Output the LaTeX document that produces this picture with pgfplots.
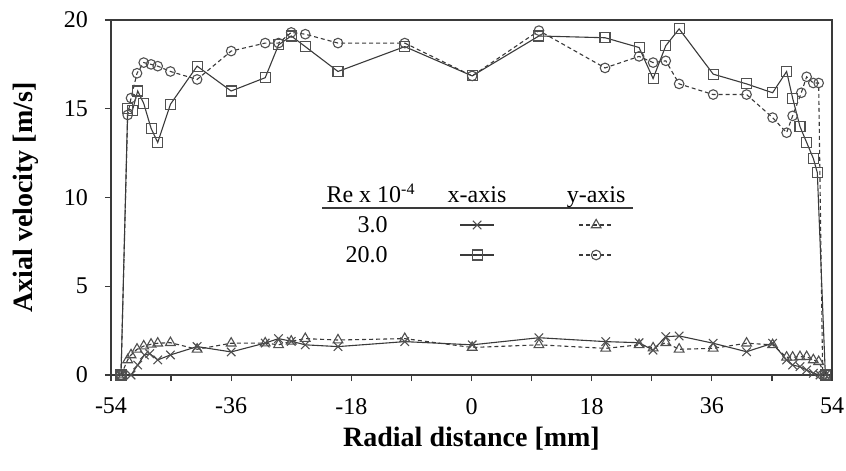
\documentclass[border=0pt]{standalone}
\usepackage{fontspec}
\setmainfont{Liberation Serif}
\usepackage{pgfplots}
\pgfplotsset{compat=1.18}
\definecolor{ln}{HTML}{3A3A3A}
\definecolor{mk}{HTML}{505050}
\pgfplotsset{
  lgimg/.style={legend image code/.code={%
    \path (0pt,0pt) (40pt,0pt);
    \draw[mark repeat=2,mark phase=2] plot coordinates {(11.5pt,0pt) (20pt,0pt) (28.5pt,0pt)};}},
  sx/.style={ln, line width=0.55pt, solid},
  sy/.style={ln, line width=0.55pt, dash pattern=on 2pt off 1.5pt},
}
\begin{document}
\begin{tikzpicture}
\begin{axis}[
  scale only axis, width=360.5pt, height=177.5pt,
  xmin=-54, xmax=54, ymin=0, ymax=20,
  xtick={-54,-36,...,54}, minor xtick={-45,-27,-9,9,27,45},
  ytick={0,5,...,20},
  tick pos=left, tick align=outside,
  major tick length=3pt, minor tick length=3pt,
  every tick/.style={ln, line width=0.6pt},
  axis line style={ln, line width=0.7pt},
  /pgf/number format/assume math mode=true,
  ticklabel style={font=\fontsize{12}{14}\selectfont},
  xticklabel style={yshift=-5pt},
  yticklabel style={xshift=-5pt},
  xlabel={Radial distance [mm]},
  ylabel={Axial velocity [m/s]},
  every axis x label/.style={at={(axis description cs:0.5,-0.2028)}, anchor=base, font=\fontsize{14}{17}\selectfont\bfseries},
  every axis y label/.style={at={(axis description cs:-0.1082,0.5)}, anchor=base, rotate=90, font=\fontsize{14}{17}\selectfont\bfseries},
  clip=false,
  legend columns=3,
  legend cell align=left,
  legend style={draw=none, fill=none, inner sep=0pt, outer sep=0pt, row sep=1pt, column sep=0pt,
    at={(axis description cs:0.2989,0.5465)}, anchor=north west,
    font=\fontsize{12}{14}\selectfont,
    nodes={inner sep=0pt, text height=11pt, text depth=3pt, font=\fontsize{12}{14}\selectfont}},
]
% Re 3.0, x-axis
\addplot[sx, mark=x, mark size=3pt, mark options={mk, solid}, forget plot] coordinates {
(-52.5,0) (-51.0,0.0) (-50.0,0.56) (-49.0,1.13) (-48.2,1.2) (-47.0,0.85) (-45.1,1.13) (-41.1,1.6)
(-36.0,1.3) (-30.9,1.8) (-28.9,2.05) (-27.0,1.9) (-24.9,1.7) (-20.0,1.6) (-10.0,1.88) (0.1,1.7)
(10.1,2.1) (20.1,1.88) (25.1,1.82) (27.2,1.4) (29.1,2.16) (31.1,2.2) (36.2,1.79) (41.2,1.31)
(45.1,1.79) (47.2,0.85) (48.1,0.56) (49.2,0.47) (50.2,0.28) (51.2,0.1) (52.2,0) (53.0,0)};
% Re 3.0, y-axis
\addplot[sy, mark=triangle, mark size=2.8pt, mark options={mk, solid, fill=white}, forget plot] coordinates {
(-52.5,0) (-51.5,0.85) (-51.0,1.13) (-50.1,1.45) (-49.1,1.63) (-48.0,1.73) (-47.0,1.79) (-45.1,1.82)
(-41.1,1.45) (-36.0,1.79) (-30.9,1.8) (-28.9,1.7) (-27.0,1.9) (-24.9,2.05) (-20.0,1.97) (-10.0,2.05)
(0.1,1.55) (10.1,1.7) (20.1,1.5) (25.1,1.7) (27.2,1.52) (29.1,1.82) (31.1,1.45) (36.2,1.5)
(41.2,1.79) (45.1,1.7) (47.2,1.0) (48.1,1.0) (49.2,1.03) (50.2,1.03) (51.2,0.85) (52.0,0.75) (53.0,0)};
% Re 20.0, y-axis
\addplot[sy, mark=o, mark size=2.4pt, mark options={mk, solid, fill=white}, forget plot] coordinates {
(-52.5,0) (-51.5,14.65) (-51.0,15.6) (-50.1,17.0) (-49.1,17.6) (-48.0,17.5) (-47.0,17.4) (-45.1,17.1)
(-41.1,16.65) (-36.0,18.25) (-30.9,18.7) (-28.9,18.7) (-27.0,19.3) (-24.9,19.2) (-20.0,18.7) (-10.0,18.7)
(0.1,16.85) (10.1,19.4) (20.0,17.3) (25.1,17.95) (27.2,17.6) (29.1,17.7) (31.1,16.4) (36.2,15.8)
(41.2,15.8) (45.1,14.5) (47.2,13.65) (48.1,14.6) (49.4,15.9) (50.2,16.8) (51.2,16.45) (52.0,16.45) (52.6,0)};
% Re 20.0, x-axis
\addplot[sx, mark=square, mark size=2.5pt, mark options={mk, solid, fill=white}, forget plot] coordinates {
(-52.5,0) (-51.5,15.0) (-50.8,14.9) (-50.0,16.0) (-49.1,15.3) (-48.0,13.9) (-47.0,13.1) (-45.1,15.25)
(-41.1,17.4) (-36.0,16.0) (-30.9,16.75) (-28.9,18.6) (-27.0,19.1) (-24.9,18.5) (-20.0,17.1) (-10.0,18.5)
(0.1,16.85) (10.1,19.1) (20.0,19.0) (25.1,18.45) (27.2,16.7) (29.1,18.55) (31.1,19.5) (36.2,16.95)
(41.2,16.4) (45.1,15.9) (47.2,17.1) (48.1,15.6) (49.2,14.0) (50.2,13.1) (51.2,12.2) (51.8,11.4) (53.0,0)};
% ---- legend table ----
\addlegendimage{legend image code/.code={}}
\addlegendentry{\makebox[55pt][l]{Re x 10\textsuperscript{-4}}}
\addlegendimage{legend image code/.code={%
  \path (0pt,0pt) (40pt,0pt);
  \node[anchor=center, inner sep=0pt, text height=11pt, text depth=3pt] at (20pt,0pt) {x-axis};
  \draw[overlay, ln, line width=0.6pt] (-57.5pt,-6.5pt) -- (98pt,-6.5pt);}}
\addlegendentry{\rule{19pt}{0pt}}
\addlegendimage{legend image code/.code={%
  \path (0pt,0pt) (40pt,0pt);
  \node[anchor=center, inner sep=0pt, text height=11pt, text depth=3pt] at (20pt,0pt) {y-axis};}}
\addlegendentry{\mbox{}}
\addlegendimage{legend image code/.code={}}
\addlegendentry{\makebox[55pt][l]{\hspace{9.5pt}\phantom{2}3.0}}
\addlegendimage{sx, mark=x, mark size=3pt, mark options={mk, solid}, lgimg}
\addlegendentry{\rule{19pt}{0pt}}
\addlegendimage{sy, mark=triangle, mark size=2.8pt, mark options={mk, solid, fill=white}, lgimg}
\addlegendentry{\mbox{}}
\addlegendimage{legend image code/.code={}}
\addlegendentry{\makebox[55pt][l]{\hspace{9.5pt}20.0}}
\addlegendimage{sx, mark=square, mark size=2.5pt, mark options={mk, solid, fill=white}, lgimg}
\addlegendentry{\rule{19pt}{0pt}}
\addlegendimage{sy, mark=o, mark size=2.4pt, mark options={mk, solid, fill=white}, lgimg}
\addlegendentry{\mbox{}}
\end{axis}
\pgfresetboundingbox
\path (current axis.south west) ++(-55.5pt,-48pt) rectangle ++(423pt,235.5pt);
\end{tikzpicture}
\end{document}
